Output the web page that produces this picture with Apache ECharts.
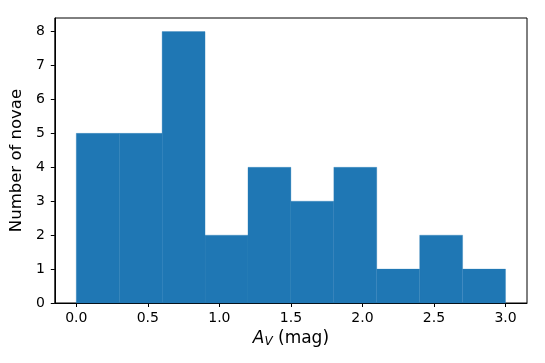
<!DOCTYPE html>
<html>
<head>
<meta charset="utf-8">
<script src="https://cdn.jsdelivr.net/npm/echarts@6/dist/echarts.min.js"></script>
<style>
  html, body { margin: 0; padding: 0; background: #fff; }
  #chart { width: 545px; height: 363px; }
</style>
</head>
<body>
<div id="chart"></div>
<script>
  // 直方图的分箱 (bin 左右边界) 和计数
  const binStart = [0.0, 0.3, 0.6, 0.9, 1.2, 1.5, 1.8, 2.1, 2.4, 2.7]
  const binEnd = [0.3, 0.6, 0.9, 1.2, 1.5, 1.8, 2.1, 2.4, 2.7, 3.0]
  const counts = [5, 5, 8, 2, 4, 3, 4, 1, 2, 1]
  const xTicks = [0.0, 0.5, 1.0, 1.5, 2.0, 2.5, 3.0]
  const yTicks = [0, 1, 2, 3, 4, 5, 6, 7, 8]

  const font = 'DejaVu Sans'
  const data = counts.map((c, i) => [binStart[i], binEnd[i], c])

  const chart = echarts.init(document.getElementById('chart'))
  chart.setOption({
    animation: false,
    grid: {
      left: 54, right: 18, top: 18, bottom: 60,
      show: true, borderColor: '#000', borderWidth: 1
    },
    xAxis: {
      type: 'value',
      min: -0.15, max: 3.15,
      name: '{a|A}{s|V} (mag)',
      nameLocation: 'middle',
      nameGap: 27,
      nameTextStyle: {
        fontFamily: font, fontSize: 17, color: '#000',
        rich: {
          a: {fontFamily: font, fontSize: 17, fontStyle: 'italic', color: '#000'},
          s: {fontFamily: font, fontSize: 12, fontStyle: 'italic', color: '#000', verticalAlign: 'bottom', padding: [6, 0, 0, 0]}
        }
      },
      axisLine: {show: true, onZero: false, lineStyle: {color: '#000', width: 1}},
      axisTick: {show: true, inside: false, length: 4, customValues: xTicks, lineStyle: {color: '#000'}},
      axisLabel: {
        customValues: xTicks, fontFamily: font, fontSize: 14, color: '#000', margin: 8,
        formatter: v => v.toFixed(1)
      },
      splitLine: {show: false}
    },
    yAxis: {
      type: 'value',
      min: 0, max: 8.4,
      name: 'Number of novae',
      nameLocation: 'middle',
      nameGap: 24,
      nameTextStyle: {fontFamily: font, fontSize: 16.5, color: '#000'},
      axisLine: {show: true, onZero: false, lineStyle: {color: '#000', width: 1}},
      axisTick: {show: true, inside: false, length: 4, customValues: yTicks, lineStyle: {color: '#000'}},
      axisLabel: {customValues: yTicks, fontFamily: font, fontSize: 14, color: '#000', margin: 10},
      splitLine: {show: false}
    },
    series: [{
      type: 'custom',
      data: data,
      encode: {x: [0, 1], y: 2},
      renderItem: (params, api) => {
        const p0 = api.coord([api.value(0), 0])
        const p1 = api.coord([api.value(1), api.value(2)])
        return {
          type: 'rect',
          shape: {x: p0[0], y: p1[1], width: p1[0] - p0[0], height: p0[1] - p1[1]},
          style: {fill: '#1f77b4', stroke: '#2a7db7', lineWidth: 0.3}
        }
      }
    }]
  })
</script>
</body>
</html>
